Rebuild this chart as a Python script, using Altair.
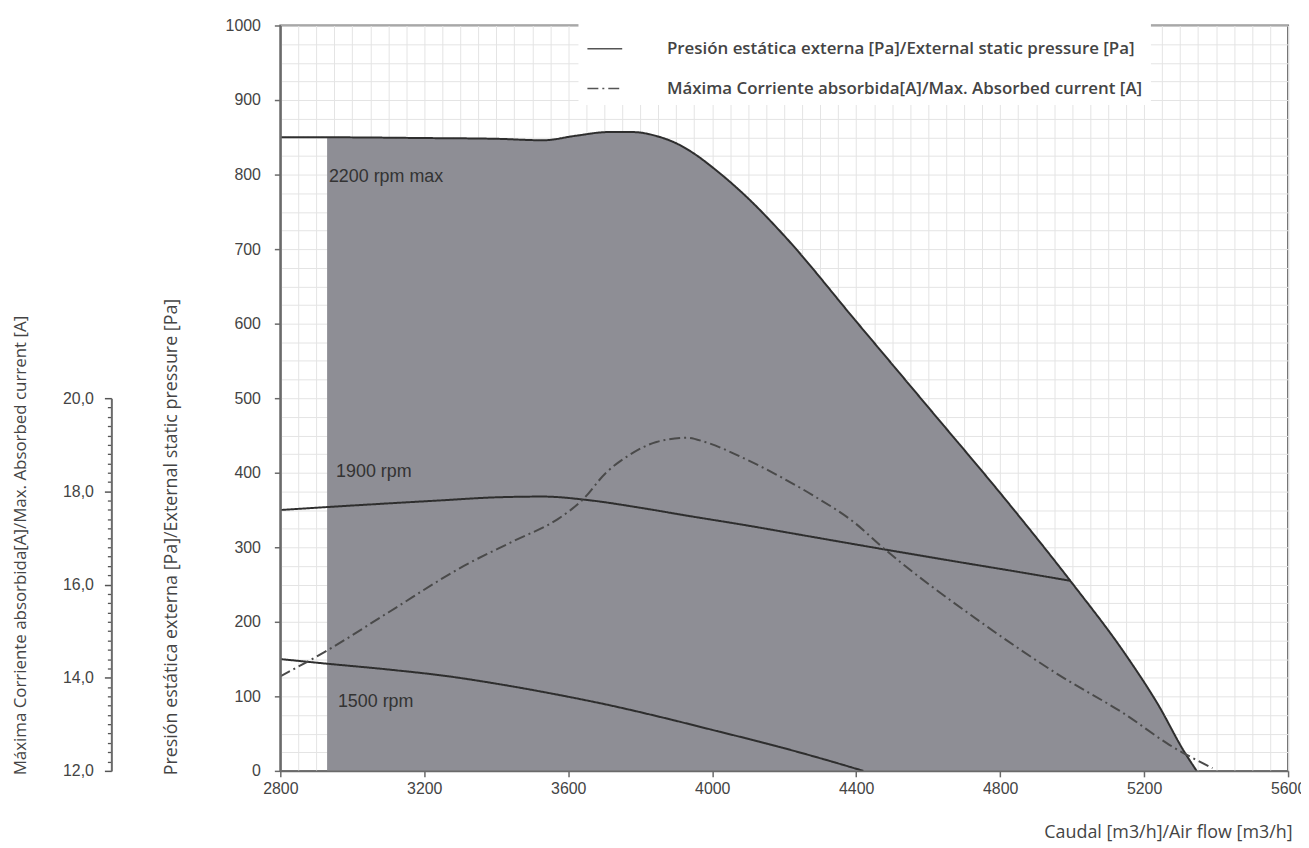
import altair as alt
import pandas as pd

# ---------------- data ----------------
FLOW_2200 = [2800, 2930, 3200, 3400, 3530, 3620, 3710, 3780, 3850, 3900, 3950, 4000, 4100, 4200, 4400, 4600, 4815, 4995, 5150, 5240, 5310, 5346]
P_2200 = [850, 850, 849, 848, 846, 852, 857, 857, 851, 842, 828, 810, 768, 718, 603, 488, 364, 255, 155, 88, 27, 0]

FLOW_1900 = [2800, 3000, 3250, 3400, 3530, 3660, 3800, 3935, 4100, 4230, 4480, 4700, 4850, 4995]
P_1900 = [350, 356, 363, 367, 368, 363, 353, 342, 329, 318, 297, 279, 267, 255]

FLOW_1500 = [2800, 2925, 3100, 3265, 3400, 3540, 3725, 3850, 4000, 4180, 4300, 4420]
P_1500 = [150, 144, 136, 127, 117, 105, 87, 73, 55, 33, 17, 0]

FLOW_I = [2800, 2925, 3100, 3310, 3450, 3570, 3640, 3705, 3770, 3845, 3930, 3980, 4085, 4195, 4285, 4395, 4470, 4745, 4965, 5150, 5270, 5390]
CURRENT = [14.03, 14.56, 15.40, 16.40, 16.94, 17.40, 17.82, 18.40, 18.78, 19.06, 19.15, 19.06, 18.72, 18.29, 17.89, 17.33, 16.82, 15.20, 14.05, 13.20, 12.56, 12.06]

SHADE_FROM = 2930  # left edge of the shaded working zone

RPM_TEXT = ["2200 rpm max", "1900 rpm", "1500 rpm"]
RPM_TEXT_FLOW = [2935, 2955, 2960]
RPM_TEXT_P = [797, 401, 93]

LABEL_P = "Presión estática externa [Pa]/External static pressure [Pa]"
LABEL_I = "Máxima Corriente absorbida[A]/Max. Absorbed current [A]"
X_TITLE = "Caudal [m3/h]/Air flow [m3/h]"

X_TICKS = [2800, 3200, 3600, 4000, 4400, 4800, 5200, 5600]
Y_TICKS = [0, 100, 200, 300, 400, 500, 600, 700, 800, 900, 1000]
I_TICKS = [round(12 + 0.2 * i, 1) for i in range(41)]
X_GRID = list(range(2800, 5601, 50))
Y_GRID = list(range(0, 1001, 25))

# ---------------- styles ----------------
SHADE = "#8e8e95"
LINE = "#2e2e2e"
LINE_I = "#4a4a4a"
AX = "#6a6a6a"
TXT = "#444444"
GRIDC = "#e4e4e4"
NUMFONT = "Liberation Sans Narrow, Liberation Sans, Arial"
TFONT = "Open Sans"

# ---------------- tables ----------------
rows = []
for rpm, fl, pr in [("2200", FLOW_2200, P_2200), ("1900", FLOW_1900, P_1900), ("1500", FLOW_1500, P_1500)]:
    for f, p in zip(fl, pr):
        rows.append({"flow": f, "p": p, "rpm": rpm, "serie": LABEL_P})
press = pd.DataFrame(rows)

area_df = pd.DataFrame({"flow": FLOW_2200, "p": P_2200})
area_df = area_df[area_df["flow"] >= SHADE_FROM]

cur_df = pd.DataFrame({"flow": FLOW_I, "amp": CURRENT, "serie": LABEL_I})
txt_df = pd.DataFrame({"flow": RPM_TEXT_FLOW, "p": RPM_TEXT_P, "t": RPM_TEXT})

xs = alt.Scale(domain=[2800, 5600], nice=False, zero=False)
ys = alt.Scale(domain=[0, 1000], nice=False)
ys_i = alt.Scale(domain=[12, 20], range=[750, 375], nice=False, zero=False)
dash = alt.Scale(domain=[LABEL_P, LABEL_I], range=[[1, 0], [11, 4, 2, 4]])

legend = alt.Legend(
    title=None, orient="none", legendX=300, legendY=-3,
    symbolType="stroke", symbolSize=1225, symbolStrokeWidth=1.5,
    symbolStrokeColor="#555", labelFontSize=17, labelFontWeight=600, labelColor=TXT, labelFont=TFONT,
    labelOffset=44, rowPadding=13, fillColor="white", padding=8, labelLimit=900,
)

grid_x_axis = alt.Axis(orient="bottom", values=X_GRID, grid=True, gridColor=GRIDC, gridWidth=1,
                       ticks=False, labels=False, domain=False, title=None)
grid_y_axis = alt.Axis(orient="left", values=Y_GRID, grid=True, gridColor=GRIDC, gridWidth=1,
                       ticks=False, labels=False, domain=False, title=None)

main_x_axis = alt.Axis(
    orient="bottom", values=X_TICKS, format="d", grid=False, tickSize=6, tickColor=AX, tickWidth=1.5,
    domainColor=AX, domainWidth=2, labelFontSize=16, labelFont=NUMFONT, labelColor=TXT,
    labelPadding=4, labelFlush=False, labelOverlap=False,
    title=X_TITLE, titleFont=TFONT, titleFontSize=18, titleFontWeight="normal", titleColor=TXT,
    titleX=1018, titleY=62, titleAlign="right", titleBaseline="middle", zindex=1,
)
main_y_axis = alt.Axis(
    orient="left", values=Y_TICKS, format="d", grid=False, tickSize=6, tickColor=AX, tickWidth=1.5,
    domainColor=AX, domainWidth=2, labelFontSize=16, labelFont=NUMFONT, labelColor=TXT,
    labelPadding=14, labelOverlap=False, labelFlush=False,
    title=LABEL_P, titleFont=TFONT, titleFontSize=18, titleFontWeight="normal", titleColor=TXT,
    titleX=-109, titleY=754, titleAngle=270, titleAlign="left", titleBaseline="middle", zindex=1,
)
cur_axis = alt.Axis(
    orient="left", offset=170, values=I_TICKS, grid=False,
    tickSize={"condition": {"test": "datum.value % 2 == 0", "value": 7}, "value": 4},
    tickWidth={"condition": {"test": "datum.value % 2 == 0", "value": 1.5}, "value": 1.3},
    tickColor="#555",
    domainColor=AX, domainWidth=2, labelFontSize=16, labelFont=NUMFONT, labelColor=TXT,
    labelPadding=11, labelOverlap=False, labelFlush=False,
    labelExpr="datum.value % 2 == 0 ? replace(format(datum.value, '.1f'), '.', ',') : ''",
    title=LABEL_I, titleFont=TFONT, titleFontSize=17, titleFontWeight="normal", titleColor=TXT,
    titleX=-91, titleY=754, titleAngle=270, titleAlign="left", titleBaseline="middle", zindex=1,
)

area = alt.Chart(area_df).mark_area(color=SHADE, opacity=1, interpolate="monotone").encode(
    x=alt.X("flow:Q", scale=xs, axis=grid_x_axis),
    y=alt.Y("p:Q", scale=ys, axis=grid_y_axis),
)

lines = alt.Chart(press).mark_line(color=LINE, strokeWidth=2, interpolate="monotone").encode(
    x=alt.X("flow:Q", scale=xs, axis=main_x_axis),
    y=alt.Y("p:Q", scale=ys, axis=main_y_axis),
    detail="rpm:N",
    strokeDash=alt.StrokeDash("serie:N", scale=dash, legend=legend),
)

cur = alt.Chart(cur_df).mark_line(color=LINE_I, strokeWidth=2, interpolate="monotone").encode(
    x=alt.X("flow:Q", scale=xs, axis=None),
    y=alt.Y("amp:Q", scale=ys_i, axis=cur_axis),
    strokeDash=alt.StrokeDash("serie:N", scale=dash, legend=legend),
)

labels = alt.Chart(txt_df).mark_text(align="left", baseline="middle", fontSize=18,
                                     font=NUMFONT, color="#333").encode(
    x=alt.X("flow:Q", scale=xs, axis=None),
    y=alt.Y("p:Q", scale=ys, axis=None),
    text="t:N",
)

chart = (
    alt.layer(area, lines, cur, labels)
    .resolve_scale(y="independent")
    .resolve_axis(x="independent", y="independent")
    .properties(
        width=1014, height=750,
        autosize=alt.AutoSizeParams(type="none"),
        padding={"left": 274, "top": 15, "right": 13, "bottom": 75},
        background="white",
    )
    .configure_view(stroke=AX, strokeWidth=2)
)

chart.save("out.html", embed_options={"renderer": "svg", "actions": False})
